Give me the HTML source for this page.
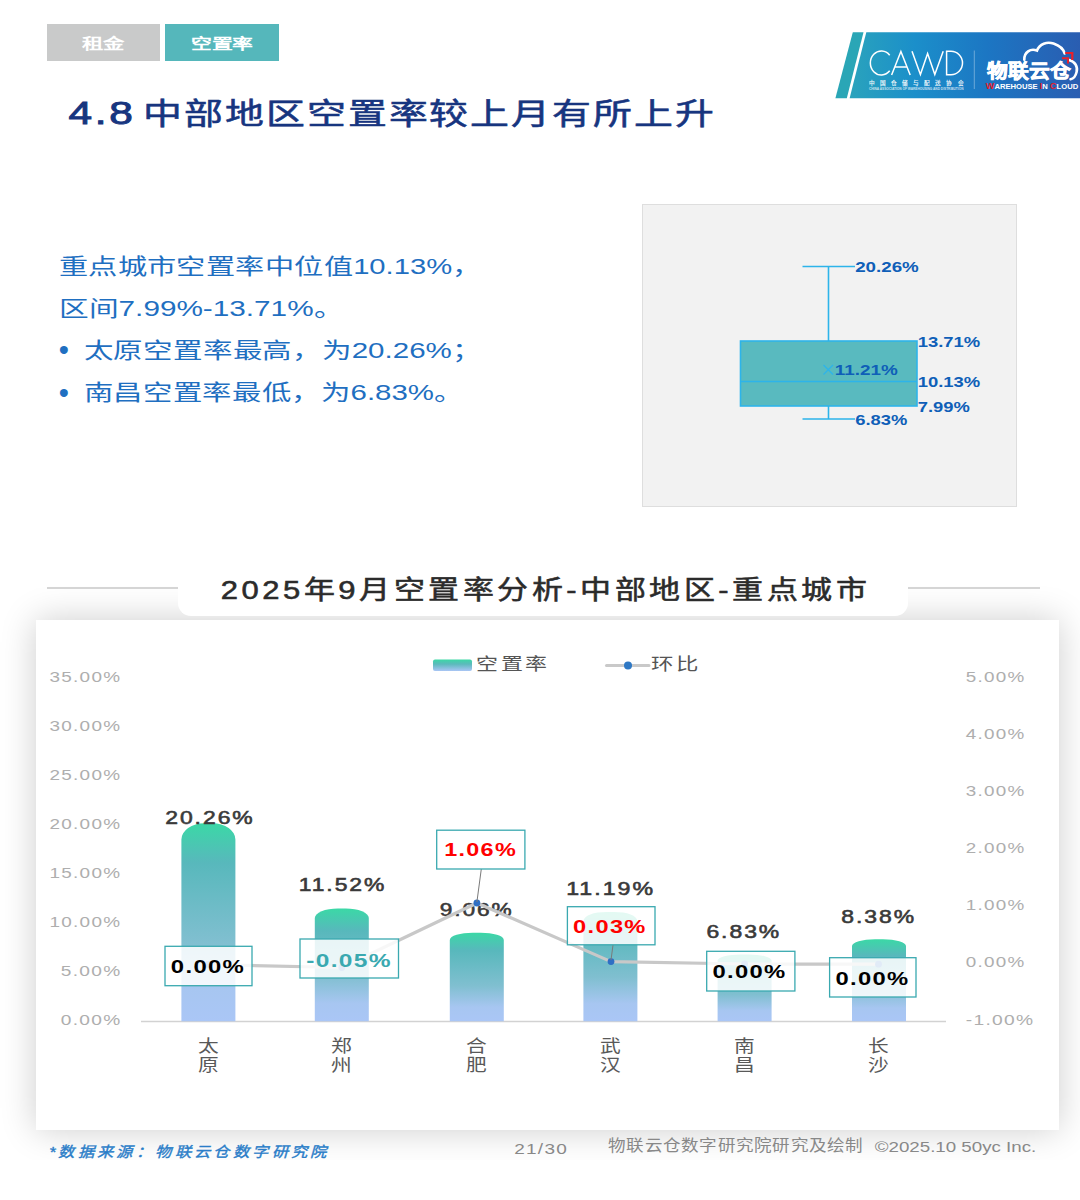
<!DOCTYPE html>
<html lang="zh-CN">
<head>
<meta charset="utf-8">
<title>4.8 中部地区空置率较上月有所上升</title>
<style>
*{margin:0;padding:0;box-sizing:border-box}
html,body{width:1080px;height:1200px;background:#fff;overflow:hidden}
body{position:relative;font-family:"Liberation Sans",sans-serif;color:#333}
.tab{position:absolute;top:24px;height:37px;width:113.5px}
.tab.g{left:46.5px;background:#c9caca}
.tab.t{left:165px;background:#55b7bb}
.gbox{position:absolute;left:642px;top:204px;width:375px;height:303px;background:#f2f2f2;border:1px solid #dedede}
.ctitlebox{position:absolute;left:178px;top:560px;width:730px;height:56px;background:#fff;border-radius:0 0 13px 13px}
.hl{position:absolute;top:587px;height:1.5px;background:#d6d6d6}
.pclip{position:absolute;left:0;top:586px;width:1080px;height:574px;overflow:hidden}
.panel{position:absolute;left:36px;top:34px;width:1023px;height:510px;background:#fff;box-shadow:0 0 34px rgba(0,0,0,.2)}
svg{position:absolute;left:0;top:0;font-family:"Liberation Sans",sans-serif}
</style>
</head>
<body>
<div class="tab g"></div>
<div class="tab t"></div>
<div class="gbox"></div>
<div class="hl" style="left:46.5px;width:132px"></div>
<div class="hl" style="left:908px;width:132px"></div>
<div class="pclip"><div class="panel"></div></div>
<div class="ctitlebox"></div>
<svg width="1080" height="1200" viewBox="0 0 1080 1200">
<defs>
<linearGradient id="bg" x1="0" y1="0" x2="0" y2="1">
<stop offset="0" stop-color="#3bd8a6"/><stop offset=".2" stop-color="#58b8bc"/><stop offset=".6" stop-color="#80bfd0"/><stop offset=".84" stop-color="#a7c6f1"/><stop offset="1" stop-color="#aac6f6"/>
</linearGradient>
<linearGradient id="bg2" x1="0" y1="0" x2="0" y2="1">
<stop offset="0" stop-color="#3bd8a6"/><stop offset=".4" stop-color="#5bbabb"/><stop offset="1" stop-color="#a9c5f5"/>
</linearGradient>
<linearGradient id="lg" gradientUnits="userSpaceOnUse" x1="850" y1="0" x2="1080" y2="0">
<stop offset="0" stop-color="#2aa3bc"/><stop offset=".28" stop-color="#1b8fca"/><stop offset=".6" stop-color="#1c76c3"/><stop offset="1" stop-color="#2a5db1"/>
</linearGradient>
</defs>
<g id="logo">
<path d="M852.8 32.3H863.5L846.8 98.3H835.4Z" fill="#2aa6b6"/>
<path d="M866.3 32.3H1080V98.3H849.6Z" fill="url(#lg)"/>
<g fill="none" stroke="#fff" stroke-width="1.5" stroke-linejoin="miter">
<path d="M889.7 55.2A11 12 0 1 0 889.7 70.8"/>
<path d="M891.6 75L900.9 51.5L910.2 75M894.8 67H907"/>
<path d="M912 51.3L920.4 74.5L927.6 53.5L934.8 74.5L943.2 51.3"/>
<path d="M946.6 51.3V74.7H951A11.5 11.7 0 0 0 951 51.3Z"/>
</g>
<text x="869" y="85" font-size="5.6" font-weight="bold" fill="#fff" fill-opacity=".92" textLength="94.5" lengthAdjust="spacing">中国仓储与配送协会</text>
<text x="869" y="89.5" font-size="2.7" font-weight="bold" fill="#fff" fill-opacity=".75" textLength="94.5" lengthAdjust="spacingAndGlyphs">CHINA ASSOCIATION OF WAREHOUSING AND DISTRIBUTION</text>
<path d="M974.3 50.5V89" stroke="#fff" stroke-opacity=".35" stroke-width="1"/>
<text x="986.6" y="78.4" font-size="19.6" font-weight="900" fill="#fff" stroke="#fff" stroke-width=".7" textLength="84.5" lengthAdjust="spacingAndGlyphs">物联云仓</text>
<g fill="none" stroke="#fff" stroke-width="2.6" stroke-linecap="round">
<path d="M1024.3 59.8C1024 52.5 1030.5 47.8 1037 50.6C1039.5 44 1047 41.3 1053.5 43.6C1059.5 45.6 1063.5 49.5 1064.6 53.5"/>
<path d="M1069 60C1075 61.5 1078 66.5 1076.6 72C1075.6 76.3 1073 78.8 1070.5 79.3"/>
</g>
<path d="M1065.2 53H1072.3V60" fill="none" stroke="#e8202a" stroke-width="2.2"/>
<path d="M1062 58.2H1068V63.4" fill="none" stroke="#e8202a" stroke-width="2"/>
<text x="985.8" y="89.2" font-size="8" font-weight="bold" fill="#fff" textLength="92.4" lengthAdjust="spacingAndGlyphs"><tspan fill="#e8202a" font-size="9.6">W</tspan>AREHOUSE <tspan fill="#e8202a" font-size="9.6">I</tspan>N <tspan fill="#e8202a" font-size="9.6">C</tspan>LOUD</text>
</g>

<text x="81.7" y="48.6" font-size="15" fill="#fff" font-weight="bold" textLength="42.6" lengthAdjust="spacingAndGlyphs">租金</text>
<text x="190.7" y="48.6" font-size="15" fill="#fff" font-weight="bold" textLength="62.6" lengthAdjust="spacingAndGlyphs">空置率</text>
<text x="68.5" y="123.7" font-size="31" fill="#17357f" letter-spacing="2" textLength="67.1" lengthAdjust="spacingAndGlyphs" stroke="#17357f" stroke-width=".9">4.8</text>
<text x="142.7" y="123.6" font-size="30" fill="#17357f" letter-spacing="1.6" textLength="573.6" lengthAdjust="spacingAndGlyphs" stroke="#17357f" stroke-width=".55">中部地区空置率较上月有所上升</text>
<text x="58.6" y="273.7" font-size="21.8" fill="#1f6fc1" textLength="423.0" lengthAdjust="spacingAndGlyphs">重点城市空置率中位值10.13%，</text>
<text x="58.6" y="315.5" font-size="21.8" fill="#1f6fc1" textLength="285.0" lengthAdjust="spacingAndGlyphs">区间7.99%-13.71%。</text>
<text x="58.8" y="360.3" font-size="29" fill="#1f6fc1">•</text>
<text x="83.6" y="357.5" font-size="21.8" fill="#1f6fc1" textLength="398.0" lengthAdjust="spacingAndGlyphs">太原空置率最高，为20.26%；</text>
<text x="58.8" y="402.7" font-size="29" fill="#1f6fc1">•</text>
<text x="83.6" y="399.7" font-size="21.8" fill="#1f6fc1" textLength="380.0" lengthAdjust="spacingAndGlyphs">南昌空置率最低，为6.83%。</text>
<g stroke="#2db4ea" stroke-width="1.6" fill="none">
<path d="M802.5 266.5H855M828.5 266.5V341M828.5 406V419M802.5 419H855"/>
<rect x="740.5" y="341" width="176.5" height="65" fill="#59babf"/>
<path d="M740.5 381.5H917"/>
<path d="M823.5 365L833 374.5M833 365L823.5 374.5" stroke-width="1.3"/>
</g>
<text x="855.2" y="271.7" font-size="14.5" fill="#0f5fb8" font-weight="bold" textLength="63.6" lengthAdjust="spacingAndGlyphs">20.26%</text>
<text x="917.7" y="347.2" font-size="14.5" fill="#0f5fb8" font-weight="bold" textLength="62.6" lengthAdjust="spacingAndGlyphs">13.71%</text>
<text x="834.7" y="374.7" font-size="14.5" fill="#0f5fb8" font-weight="bold" textLength="63.1" lengthAdjust="spacingAndGlyphs">11.21%</text>
<text x="917.7" y="387.2" font-size="14.5" fill="#0f5fb8" font-weight="bold" textLength="62.6" lengthAdjust="spacingAndGlyphs">10.13%</text>
<text x="917.7" y="411.7" font-size="14.5" fill="#0f5fb8" font-weight="bold" textLength="52.1" lengthAdjust="spacingAndGlyphs">7.99%</text>
<text x="855.2" y="424.7" font-size="14.5" fill="#0f5fb8" font-weight="bold" textLength="52.1" lengthAdjust="spacingAndGlyphs">6.83%</text>
<text x="220.7" y="599.1" font-size="26" fill="#2b2b2b" letter-spacing="3" textLength="649.4" lengthAdjust="spacingAndGlyphs" stroke="#2b2b2b" stroke-width=".55">2025年9月空置率分析-中部地区-重点城市</text>
<rect x="433" y="659.5" width="39" height="11.5" rx="2" fill="url(#bg2)"/>
<text x="476.2" y="669.8" font-size="17" fill="#555" letter-spacing="2" textLength="73.6" lengthAdjust="spacingAndGlyphs">空置率</text>
<path d="M606.5 665.5H649" stroke="#c9c9c9" stroke-width="3" stroke-linecap="round"/>
<circle cx="628" cy="665.5" r="4" fill="#2f78c4"/>
<text x="651.2" y="670.3" font-size="17" fill="#555" letter-spacing="2" textLength="50.1" lengthAdjust="spacingAndGlyphs">环比</text>
<text x="49.4" y="682.2" font-size="14.5" fill="#aeaeae" letter-spacing="1" textLength="72.0" lengthAdjust="spacingAndGlyphs">35.00%</text>
<text x="49.4" y="731.2" font-size="14.5" fill="#aeaeae" letter-spacing="1" textLength="72.0" lengthAdjust="spacingAndGlyphs">30.00%</text>
<text x="49.4" y="780.2" font-size="14.5" fill="#aeaeae" letter-spacing="1" textLength="72.0" lengthAdjust="spacingAndGlyphs">25.00%</text>
<text x="49.4" y="829.2" font-size="14.5" fill="#aeaeae" letter-spacing="1" textLength="72.0" lengthAdjust="spacingAndGlyphs">20.00%</text>
<text x="49.4" y="878.2" font-size="14.5" fill="#aeaeae" letter-spacing="1" textLength="72.0" lengthAdjust="spacingAndGlyphs">15.00%</text>
<text x="49.4" y="927.2" font-size="14.5" fill="#aeaeae" letter-spacing="1" textLength="72.0" lengthAdjust="spacingAndGlyphs">10.00%</text>
<text x="60.7" y="976.2" font-size="14.5" fill="#aeaeae" letter-spacing="1" textLength="60.8" lengthAdjust="spacingAndGlyphs">5.00%</text>
<text x="60.7" y="1025.2" font-size="14.5" fill="#aeaeae" letter-spacing="1" textLength="60.8" lengthAdjust="spacingAndGlyphs">0.00%</text>
<text x="965.7" y="681.7" font-size="14.5" fill="#aeaeae" letter-spacing="1" textLength="59.9" lengthAdjust="spacingAndGlyphs">5.00%</text>
<text x="965.7" y="738.8" font-size="14.5" fill="#aeaeae" letter-spacing="1" textLength="59.9" lengthAdjust="spacingAndGlyphs">4.00%</text>
<text x="965.7" y="795.9" font-size="14.5" fill="#aeaeae" letter-spacing="1" textLength="59.9" lengthAdjust="spacingAndGlyphs">3.00%</text>
<text x="965.7" y="853.0" font-size="14.5" fill="#aeaeae" letter-spacing="1" textLength="59.9" lengthAdjust="spacingAndGlyphs">2.00%</text>
<text x="965.7" y="910.1" font-size="14.5" fill="#aeaeae" letter-spacing="1" textLength="59.9" lengthAdjust="spacingAndGlyphs">1.00%</text>
<text x="965.7" y="967.2" font-size="14.5" fill="#aeaeae" letter-spacing="1" textLength="59.9" lengthAdjust="spacingAndGlyphs">0.00%</text>
<text x="965.7" y="1024.7" font-size="14.5" fill="#aeaeae" letter-spacing="1" textLength="68.8" lengthAdjust="spacingAndGlyphs">-1.00%</text>
<path d="M141 1021.5H946" stroke="#d2d2d2" stroke-width="1.6"/>
<path d="M181.4 1021.3V839.6A23 16.4 0 0 1 204.4 823.2H212.4A23 16.4 0 0 1 235.4 839.6V1021.3Z" fill="url(#bg)"/>
<path d="M314.8 1021.3V918.0A23 9.4 0 0 1 337.8 908.6H345.8A23 9.4 0 0 1 368.8 918.0V1021.3Z" fill="url(#bg)"/>
<path d="M449.8 1021.3V940.0A23 7.4 0 0 1 472.8 932.7H480.8A23 7.4 0 0 1 503.8 940.0V1021.3Z" fill="url(#bg)"/>
<path d="M583.4 1021.3V920.9A23 9.1 0 0 1 606.4 911.9H614.4A23 9.1 0 0 1 637.4 920.9V1021.3Z" fill="url(#bg)"/>
<path d="M717.6 1021.3V960.5A23 6.0 0 0 1 740.6 954.5H748.6A23 6.0 0 0 1 771.6 960.5V1021.3Z" fill="url(#bg)"/>
<path d="M852.0 1021.3V946.1A23 6.8 0 0 1 875.0 939.3H883.0A23 6.8 0 0 1 906.0 946.1V1021.3Z" fill="url(#bg)"/>
<text x="197.8" y="1052.0" font-size="17.6" fill="#595959" textLength="21.2" lengthAdjust="spacingAndGlyphs">太</text>
<text x="197.8" y="1071.3" font-size="17.6" fill="#595959" textLength="21.2" lengthAdjust="spacingAndGlyphs">原</text>
<text x="331.2" y="1052.0" font-size="17.6" fill="#595959" textLength="21.2" lengthAdjust="spacingAndGlyphs">郑</text>
<text x="331.2" y="1071.3" font-size="17.6" fill="#595959" textLength="21.2" lengthAdjust="spacingAndGlyphs">州</text>
<text x="466.2" y="1052.0" font-size="17.6" fill="#595959" textLength="21.2" lengthAdjust="spacingAndGlyphs">合</text>
<text x="466.2" y="1071.3" font-size="17.6" fill="#595959" textLength="21.2" lengthAdjust="spacingAndGlyphs">肥</text>
<text x="599.8" y="1052.0" font-size="17.6" fill="#595959" textLength="21.2" lengthAdjust="spacingAndGlyphs">武</text>
<text x="599.8" y="1071.3" font-size="17.6" fill="#595959" textLength="21.2" lengthAdjust="spacingAndGlyphs">汉</text>
<text x="734.0" y="1052.0" font-size="17.6" fill="#595959" textLength="21.2" lengthAdjust="spacingAndGlyphs">南</text>
<text x="734.0" y="1071.3" font-size="17.6" fill="#595959" textLength="21.2" lengthAdjust="spacingAndGlyphs">昌</text>
<text x="868.4" y="1052.0" font-size="17.6" fill="#595959" textLength="21.2" lengthAdjust="spacingAndGlyphs">长</text>
<text x="868.4" y="1071.3" font-size="17.6" fill="#595959" textLength="21.2" lengthAdjust="spacingAndGlyphs">沙</text>
<text x="165.2" y="823.8" font-size="17.5" fill="#3a3a3a" letter-spacing="1.5" textLength="89.5" lengthAdjust="spacingAndGlyphs" stroke="#3a3a3a" stroke-width=".55">20.26%</text>
<text x="298.7" y="890.9" font-size="17.5" fill="#3a3a3a" letter-spacing="1.5" textLength="87.7" lengthAdjust="spacingAndGlyphs" stroke="#3a3a3a" stroke-width=".55">11.52%</text>
<text x="439.8" y="915.6" font-size="17.5" fill="#3a3a3a" letter-spacing="1.5" textLength="73.9" lengthAdjust="spacingAndGlyphs" stroke="#3a3a3a" stroke-width=".55">9.06%</text>
<text x="566.2" y="895.3" font-size="17.5" fill="#3a3a3a" letter-spacing="1.5" textLength="88.9" lengthAdjust="spacingAndGlyphs" stroke="#3a3a3a" stroke-width=".55">11.19%</text>
<text x="706.4" y="937.6" font-size="17.5" fill="#3a3a3a" letter-spacing="1.5" textLength="74.8" lengthAdjust="spacingAndGlyphs" stroke="#3a3a3a" stroke-width=".55">6.83%</text>
<text x="841.2" y="922.6" font-size="17.5" fill="#3a3a3a" letter-spacing="1.5" textLength="74.8" lengthAdjust="spacingAndGlyphs" stroke="#3a3a3a" stroke-width=".55">8.38%</text>
<polyline points="208.4,964.5 341.8,967.5 476.9,903 611,961.6 744.6,964 878.5,964.2" fill="none" stroke="#c8c8c8" stroke-width="3.2" stroke-linejoin="round" stroke-linecap="round"/>
<circle cx="208.4" cy="964.5" r="3.4" fill="#2f6fc4"/>
<circle cx="341.8" cy="967.5" r="3.4" fill="#2f6fc4"/>
<circle cx="476.9" cy="903" r="3.4" fill="#2f6fc4"/>
<circle cx="611" cy="961.6" r="3.4" fill="#2f6fc4"/>
<circle cx="744.6" cy="964" r="3.4" fill="#2f6fc4"/>
<circle cx="878.5" cy="964.2" r="3.4" fill="#2f6fc4"/>
<path d="M481.3 869L476.9 902M613 945L611 960" stroke="#7a7a7a" stroke-width="1" fill="none"/>
<rect x="165.0" y="946.3" width="87.0" height="39.4" fill="#fff" fill-opacity=".86" stroke="#3aa9b0" stroke-width="1.3"/>
<text x="170.8" y="972.8" font-size="18" fill="#000" font-weight="bold" letter-spacing="1" textLength="74.4" lengthAdjust="spacingAndGlyphs">0.00%</text>
<rect x="300.0" y="939.0" width="98.5" height="39.0" fill="#fff" fill-opacity=".86" stroke="#3aa9b0" stroke-width="1.3"/>
<text x="306.2" y="966.8" font-size="18" fill="#3aa9b0" font-weight="bold" letter-spacing="1" textLength="85.8" lengthAdjust="spacingAndGlyphs">-0.05%</text>
<rect x="436.7" y="830.2" width="88.2" height="38.8" fill="#fff" fill-opacity=".86" stroke="#3aa9b0" stroke-width="1.3"/>
<text x="444.2" y="856.1" font-size="18" fill="#ff0000" font-weight="bold" letter-spacing="1" textLength="72.8" lengthAdjust="spacingAndGlyphs">1.06%</text>
<rect x="567.4" y="906.7" width="87.6" height="38.1" fill="#fff" fill-opacity=".86" stroke="#3aa9b0" stroke-width="1.3"/>
<text x="573.1" y="933.1" font-size="18" fill="#ff0000" font-weight="bold" letter-spacing="1" textLength="73.6" lengthAdjust="spacingAndGlyphs">0.03%</text>
<rect x="706.7" y="951.3" width="88.2" height="39.7" fill="#fff" fill-opacity=".86" stroke="#3aa9b0" stroke-width="1.3"/>
<text x="712.4" y="977.5" font-size="18" fill="#000" font-weight="bold" letter-spacing="1" textLength="74.1" lengthAdjust="spacingAndGlyphs">0.00%</text>
<rect x="829.6" y="957.7" width="86.4" height="39.3" fill="#fff" fill-opacity=".86" stroke="#3aa9b0" stroke-width="1.3"/>
<text x="835.5" y="984.5" font-size="18" fill="#000" font-weight="bold" letter-spacing="1" textLength="74.0" lengthAdjust="spacingAndGlyphs">0.00%</text>
<text x="49.2" y="1157.4" font-size="14.6" fill="#2a7dc8" letter-spacing="2.4" font-style="italic" textLength="280.6" lengthAdjust="spacingAndGlyphs" stroke="#2a7dc8" stroke-width=".4">*数据来源：物联云仓数字研究院</text>
<text x="514.2" y="1154.4" font-size="15" fill="#888" letter-spacing="1" textLength="53.9" lengthAdjust="spacingAndGlyphs">21/30</text>
<text x="608.2" y="1151.2" font-size="15.4" fill="#888" letter-spacing="1" textLength="255.3" lengthAdjust="spacingAndGlyphs">物联云仓数字研究院研究及绘制</text>
<text x="874.7" y="1151.6" font-size="15.5" fill="#888" textLength="161.6" lengthAdjust="spacingAndGlyphs">©2025.10 50yc Inc.</text>
</svg>
</body>
</html>
